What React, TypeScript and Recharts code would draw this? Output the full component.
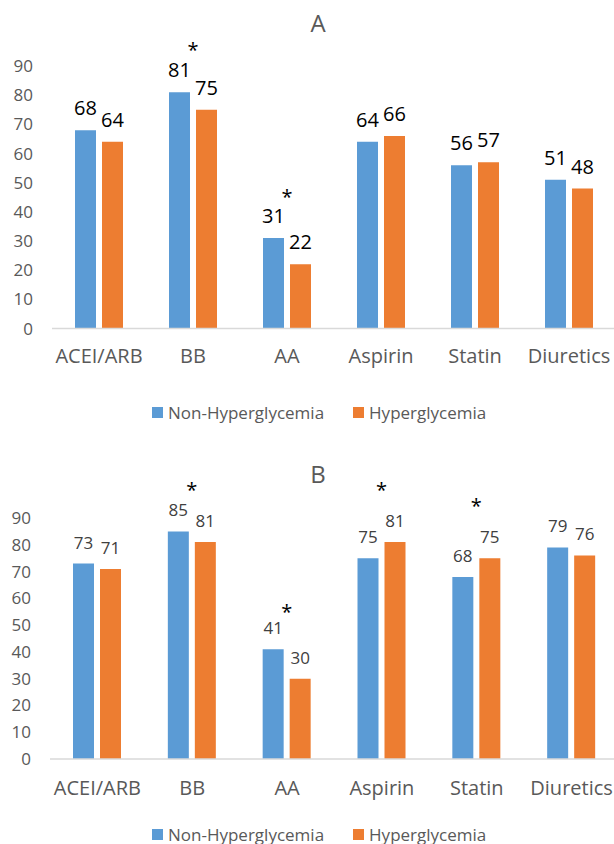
import React from 'react';
import { BarChart, Bar, XAxis, YAxis, Legend, LabelList } from 'recharts';

const categories = ['ACEI/ARB', 'BB', 'AA', 'Aspirin', 'Statin', 'Diuretics'];
const nonHyperA = [68, 81, 31, 64, 56, 51];
const hyperA = [64, 75, 22, 66, 57, 48];
// height of the significance star, in axis units (null = no star)
const starA = [null, 97, 46.5, null, null, null];
const nonHyperB = [73, 85, 41, 75, 68, 79];
const hyperB = [71, 81, 30, 81, 75, 76];
const starB = [null, 102, 56.5, 102, 96, null];
const yTicks = [0, 10, 20, 30, 40, 50, 60, 70, 80, 90];
const seriesNames = ['Non-Hyperglycemia', 'Hyperglycemia'];

const BLUE = '#5B9BD5';
const ORANGE = '#ED7D31';
const GRAY = '#595959';
const FONT = '"Open Sans", "Noto Sans", sans-serif';

const makeStar = (values: number[]) => (props: any) => {
  const star = props.value;
  if (star == null) return null;
  const vb = props.viewBox || props;
  const { x, y, width, height } = vb;
  const v = values[props.index];
  const perUnit = height / v;
  const cy = y + height - star * perUnit;
  return (
    <text x={x + width + 3} y={cy + 11} textAnchor="middle" fontSize={20} fill="#000" fontFamily={FONT}>
      *
    </text>
  );
};

function LegendBox() {
  const sw = (c: string) => (
    <span style={{ display: 'inline-block', width: 11, height: 11, background: c, marginRight: 5 }} />
  );
  return (
    <div
      style={{
        height: 20,
        display: 'flex',
        alignItems: 'center',
        paddingLeft: 152,
        fontFamily: FONT,
        fontSize: 17,
        color: GRAY,
        whiteSpace: 'nowrap',
      }}
    >
      {sw(BLUE)}
      <span>{seriesNames[0]}</span>
      <span style={{ width: 29 }} />
      {sw(ORANGE)}
      <span>{seriesNames[1]}</span>
    </div>
  );
}

interface PanelProps {
  title: string;
  nonHyper: number[];
  hyper: number[];
  stars: (number | null)[];
  labelColor: string;
  labelSize: number;
  yWidth: number;
  right: number;
  top: number;
  xHeight: number;
  tickMargin: number;
  offsetTop: number;
  titleY: number;
}

function Panel(p: PanelProps) {
  const data = categories.map((name, i) => ({
    name,
    nonHyper: p.nonHyper[i],
    hyper: p.hyper[i],
    star: p.stars[i],
  }));
  return (
    <div style={{ position: 'absolute', left: 0, top: p.offsetTop, width: 620, height: 422 }}>
      <div
        style={{
          position: 'absolute',
          left: 318,
          top: p.titleY,
          transform: 'translate(-50%, -50%)',
          fontFamily: FONT,
          fontSize: 24,
          lineHeight: 1,
          color: GRAY,
          zIndex: 2,
        }}
      >
        {p.title}
      </div>
      <BarChart
        width={620}
        height={422}
        data={data}
        margin={{ top: p.top, right: p.right, left: 0, bottom: 0 }}
        barSize={21}
        barGap={6}
      >
        <XAxis
          dataKey="name"
          height={p.xHeight}
          tickLine={false}
          tickSize={0}
          tickMargin={p.tickMargin}
          axisLine={{ stroke: '#D9D9D9', strokeWidth: 1.5 }}
          tick={{ fill: GRAY, fontSize: 20, fontFamily: FONT }}
          interval={0}
        />
        <YAxis
          width={p.yWidth}
          domain={[0, 90]}
          ticks={yTicks}
          axisLine={false}
          tickLine={false}
          tickSize={0}
          tickMargin={19}
          tick={{ fill: GRAY, fontSize: 17, fontFamily: FONT }}
        />
        <Legend
          verticalAlign="bottom"
          height={20}
          content={() => <LegendBox />}
          wrapperStyle={{ left: 0, width: 620 }}
        />
        <Bar dataKey="nonHyper" name={seriesNames[0]} fill={BLUE} isAnimationActive={false}>
          <LabelList
            dataKey="nonHyper"
            position="top"
            offset={15}
            fill={p.labelColor}
            fontSize={p.labelSize}
            fontFamily={FONT}
          />
          <LabelList dataKey="star" content={makeStar(p.nonHyper)} />
        </Bar>
        <Bar dataKey="hyper" name={seriesNames[1]} fill={ORANGE} isAnimationActive={false}>
          <LabelList
            dataKey="hyper"
            position="top"
            offset={15}
            fill={p.labelColor}
            fontSize={p.labelSize}
            fontFamily={FONT}
          />
        </Bar>
      </BarChart>
    </div>
  );
}

export default function App() {
  return (
    <div style={{ position: 'absolute', left: 0, top: 0, width: 614, height: 844, overflow: 'hidden', background: '#fff' }}>
      <Panel
        title="A"
        nonHyper={nonHyperA}
        hyper={hyperA}
        stars={starA}
        labelColor="#000"
        labelSize={20}
        yWidth={52}
        right={4}
        top={66}
        xHeight={73.5}
        tickMargin={20}
        offsetTop={0}
        titleY={23}
      />
      <Panel
        title="B"
        nonHyper={nonHyperB}
        hyper={hyperB}
        stars={starB}
        labelColor="#404040"
        labelSize={17}
        yWidth={50}
        right={1}
        top={96}
        xHeight={65}
        tickMargin={22}
        offsetTop={422}
        titleY={52}
      />
    </div>
  );
}
